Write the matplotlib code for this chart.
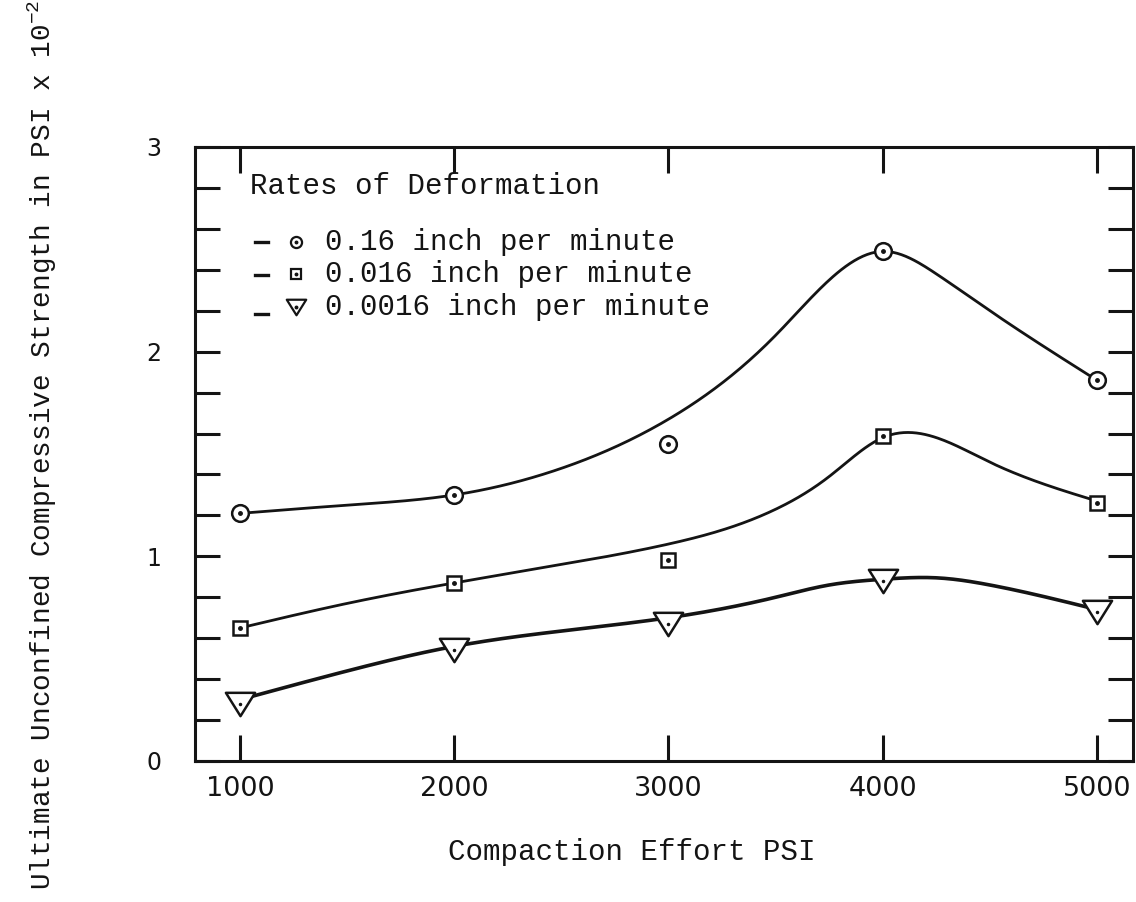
import numpy as np
import matplotlib.pyplot as plt
from matplotlib.path import Path

# compaction effort (PSI) and measured strengths (PSI x 10^-2)
effort = [1000, 2000, 3000, 4000, 5000]
rate_fast = [1.21, 1.30, 1.55, 2.49, 1.86]   # 0.16 in/min
rate_mid = [0.65, 0.87, 0.98, 1.59, 1.26]    # 0.016 in/min
rate_slow = [0.28, 0.54, 0.67, 0.88, 0.73]   # 0.0016 in/min

# guide points for the hand-faired curves
curve_effort = [1000, 1500, 2000, 2500, 3000, 3500, 3750, 4000, 4250, 4500, 5000]
curve_fast = [1.21, 1.25, 1.30, 1.43, 1.67, 2.08, 2.35, 2.49, 2.38, 2.20, 1.86]
curve_mid = [0.65, 0.77, 0.87, 0.96, 1.06, 1.23, 1.39, 1.58, 1.58, 1.46, 1.27]
curve_slow = [0.30, 0.44, 0.56, 0.635, 0.70, 0.80, 0.86, 0.888, 0.895, 0.86, 0.74]

legend_labels = ["0.16 inch per minute", "0.016 inch per minute", "0.0016 inch per minute"]
x_ticks = [1000, 2000, 3000, 4000, 5000]
y_ticks = [0, 1, 2, 3]

INK = "#141414"
MONO = "Liberation Mono"


def natural_spline(x, y, xs):
    x = np.asarray(x, float)
    y = np.asarray(y, float)
    n = len(x)
    h = np.diff(x)
    A = np.zeros((n, n))
    rhs = np.zeros(n)
    A[0, 0] = A[-1, -1] = 1.0
    for i in range(1, n - 1):
        A[i, i - 1] = h[i - 1]
        A[i, i] = 2 * (h[i - 1] + h[i])
        A[i, i + 1] = h[i]
        rhs[i] = 3 * ((y[i + 1] - y[i]) / h[i] - (y[i] - y[i - 1]) / h[i - 1])
    c = np.linalg.solve(A, rhs)
    b = (y[1:] - y[:-1]) / h - h * (2 * c[:-1] + c[1:]) / 3
    d = (c[1:] - c[:-1]) / (3 * h)
    idx = np.clip(np.searchsorted(x, xs) - 1, 0, n - 2)
    dx = xs - x[idx]
    return y[idx] + b[idx] * dx + c[idx] * dx ** 2 + d[idx] * dx ** 3


# wide downward triangle
tri = Path([(-1.25, 1), (1.25, 1), (0, -1), (-1.25, 1)],
           [Path.MOVETO, Path.LINETO, Path.LINETO, Path.CLOSEPOLY])

styles = [
    dict(marker="o", ms=12, dot=2.5),
    dict(marker="s", ms=10.5, dot=2.5),
    dict(marker=tri, ms=21, dot=1.5),
]

fig = plt.figure(figsize=(11.36, 9.02), dpi=100)
ax = fig.add_axes([195 / 1136, 1 - 761 / 902, (1133 - 195) / 1136, (761 - 147) / 902])

xs = np.linspace(1000, 5000, 400)
for pts, guide, st, lw in zip([rate_fast, rate_mid, rate_slow],
                              [curve_fast, curve_mid, curve_slow],
                              styles, [2.0, 2.0, 2.6]):
    ax.plot(xs, natural_spline(curve_effort, guide, xs), color=INK, lw=lw,
            solid_capstyle="round", zorder=2)
    ax.plot(effort, pts, ls="none", marker=st["marker"], ms=st["ms"],
            mfc="white", mec=INK, mew=1.8, zorder=3)
    ax.plot(effort, pts, ls="none", marker="o", ms=st["dot"], color=INK, zorder=4)

ax.set_xlim(790, 5168)
ax.set_ylim(0, 3)
ax.set_xticks(x_ticks)
ax.set_yticks(y_ticks)
ax.set_yticks(np.arange(0.2, 3.0, 0.2), minor=True)

for s in ax.spines.values():
    s.set_linewidth(2.2)
    s.set_color(INK)

ax.tick_params(axis="x", which="both", direction="in", top=True, bottom=True,
               length=19, width=2.2, pad=11, colors=INK)
ax.tick_params(axis="y", which="both", direction="in", left=True, right=True,
               length=18, width=2.2, pad=24, colors=INK)
for lab in ax.get_xticklabels():
    lab.set_family("DejaVu Sans")
    lab.set_fontsize(19.5)
for lab in ax.get_yticklabels():
    lab.set_family("DejaVu Sans")
    lab.set_fontsize(17)

# legend block, typed inside the frame
ax.text(0.0586, 0.936, "Rates of Deformation", transform=ax.transAxes,
        ha="left", va="center", fontsize=21, family=MONO, color=INK)
row_y = [0.846, 0.793, 0.740]
dash_y = [0.846, 0.791, 0.728]
leg_ms = [8, 7.5, 14]
for y, dy, st, ms, label in zip(row_y, dash_y, styles, leg_ms, legend_labels):
    ax.plot([0.064, 0.078], [dy, dy], transform=ax.transAxes, color=INK,
            lw=2.4, clip_on=False)
    ax.plot([0.1077], [y], transform=ax.transAxes, ls="none", marker=st["marker"],
            ms=ms, mfc="white", mec=INK, mew=1.6, clip_on=False)
    ax.plot([0.1077], [y], transform=ax.transAxes, ls="none", marker="o",
            ms=1.8, color=INK, clip_on=False)
    ax.text(0.1386, y, label, transform=ax.transAxes, ha="left", va="center",
            fontsize=21, family=MONO, color=INK)

fig.text(632 / 1136, 1 - 852 / 902, "Compaction Effort PSI", ha="center",
         va="center", fontsize=21, family=MONO, color=INK)
plt.rcParams["mathtext.default"] = "regular"
fig.text(42 / 1136, 1 - 445 / 902,
         "Ultimate Unconfined Compressive Strength in PSI x 10$^{-2}$",
         rotation=90, ha="center", va="center", fontsize=20, family=MONO, color=INK)

fig.savefig("out.png", dpi=100, facecolor="white")
